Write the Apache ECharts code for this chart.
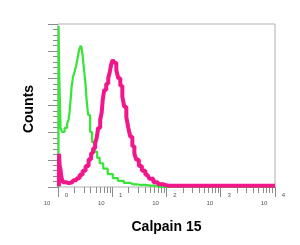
<!DOCTYPE html>
<html><head><meta charset="utf-8">
<script src="https://cdn.jsdelivr.net/npm/echarts@6/dist/echarts.min.js"></script>
<style>html,body{margin:0;padding:0;background:#fff}#c{width:300px;height:245px}</style>
</head><body><div id="c"></div>
<script>
const greenFluor = [1.02, 1.03, 1.09, 1.14, 1.24, 1.41, 1.53, 1.60, 1.67, 1.74, 1.82, 1.98, 2.06, 2.25, 2.35, 2.56, 2.67, 2.78, 2.90, 3.16, 3.30, 3.44, 3.75, 4.08, 4.45, 5.05, 5.50, 6.26, 7.42, 9.18, 11.4, 14.1, 19.0, 24.5, 33.0, 50.5, 77.4, 240, 255, 270, 10000];
const greenCounts = [0, 237, 155, 87, 81, 87, 93, 99, 110, 128, 147, 163, 169, 178, 190, 202, 208, 205, 194, 172, 150, 128, 106, 81, 66, 52, 43, 35, 27, 19, 13, 9, 6, 4, 3, 2, 0, 0, 3, 0, 0];
const pinkFluor = [1.04, 1.05, 1.09, 1.14, 1.19, 1.29, 1.53, 1.82, 2.06, 2.35, 2.67, 3.03, 3.44, 3.91, 4.26, 4.64, 5.05, 5.27, 5.74, 6.26, 6.53, 6.81, 7.42, 8.08, 8.80, 9.18, 10.0, 10.4, 11.4, 12.4, 13.5, 14.7, 16.0, 17.4, 19.0, 20.6, 22.5, 24.5, 26.7, 29.0, 33.0, 37.5, 44.5, 52.7, 62.6, 77.4, 95.8, 109, 10000];
const pinkCounts = [1, 49, 32, 25, 13, 7, 6, 7, 10, 13, 18, 24, 31, 41, 50, 57, 65, 72, 87, 99, 110, 128, 143, 152, 160, 169, 181, 187, 183, 172, 160, 149, 133, 118, 103, 87, 74, 60, 49, 40, 31, 24, 18, 12, 7, 4, 3, 2, 2];
const majorTicks = [1, 10, 100, 1000, 10000];
const minorTicks = [2, 3, 4, 5, 6, 7, 8, 9, 20, 30, 40, 50, 60, 70, 80, 90, 200, 300, 400, 500, 600, 700, 800, 900, 2000, 3000, 4000, 5000, 6000, 7000, 8000, 9000];
const xTitle = 'Calpain 15';
const yTitle = 'Counts';

const zip = (a, b) => a.map((v, i) => [v, b[i]]);
const chart = echarts.init(document.getElementById('c'), null, {renderer: 'canvas'});
const tickColor = '#8c8c8c';
chart.setOption({
  animation: false,
  backgroundColor: '#fff',
  grid: {left: 58, right: 25, top: 24, bottom: 58, show: true, borderColor: '#b0b0b0', borderWidth: 1},
  xAxis: [
    {
      type: 'log', logBase: 10, min: 1, max: 10000, position: 'bottom',
      axisLine: {show: false},
      axisTick: {show: true, length: 10, customValues: majorTicks, lineStyle: {color: tickColor}},
      axisLabel: {
        customValues: majorTicks, margin: 4, color: '#555',
        fontFamily: 'Liberation Sans, Arial, sans-serif',
        formatter: v => '{e|' + Math.round(Math.log10(v)) + '}\n{b|10}',
        rich: {
          e: {fontSize: 6, lineHeight: 8, padding: [0, 4, 0, 21], color: '#555', fontFamily: 'Liberation Sans'},
          b: {fontSize: 6, lineHeight: 8, padding: [0, 22, 0, 0], color: '#555', fontFamily: 'Liberation Sans'}
        }
      },
      splitLine: {show: false},
      name: xTitle, nameLocation: 'middle', nameGap: 33,
      nameTextStyle: {fontSize: 14, fontWeight: 'bold', color: '#000', fontFamily: 'Liberation Sans, Arial, sans-serif'}
    },
    {
      type: 'log', logBase: 10, min: 1, max: 10000, position: 'bottom',
      axisLine: {show: false},
      axisTick: {show: true, length: 6, customValues: minorTicks, lineStyle: {color: tickColor}},
      axisLabel: {show: false},
      splitLine: {show: false}
    }
  ],
  yAxis: {
    type: 'value', min: 0, max: 240, interval: 40,
    axisLine: {show: false},
    axisLabel: {show: false},
    axisTick: {show: true, length: 10, lineStyle: {color: tickColor}},
    minorTick: {show: true, splitNumber: 5, length: 5, lineStyle: {color: tickColor}},
    splitLine: {show: false},
    name: yTitle, nameLocation: 'middle', nameGap: 22, nameRotate: 90,
    nameTextStyle: {fontSize: 14, fontWeight: 'bold', color: '#000', fontFamily: 'Liberation Sans, Arial, sans-serif', padding: [0, 7, 0, 0]}
  },
  series: [
    {type: 'line', xAxisIndex: 0, data: zip(greenFluor, greenCounts), symbol: 'none', step: 'middle',
     lineStyle: {color: '#38e438', width: 2.2}, z: 2},
    {type: 'line', xAxisIndex: 0, data: zip(pinkFluor, pinkCounts), symbol: 'none', step: 'middle',
     lineStyle: {color: '#f3158a', width: 4}, z: 3}
  ]
});
</script>
</body></html>
